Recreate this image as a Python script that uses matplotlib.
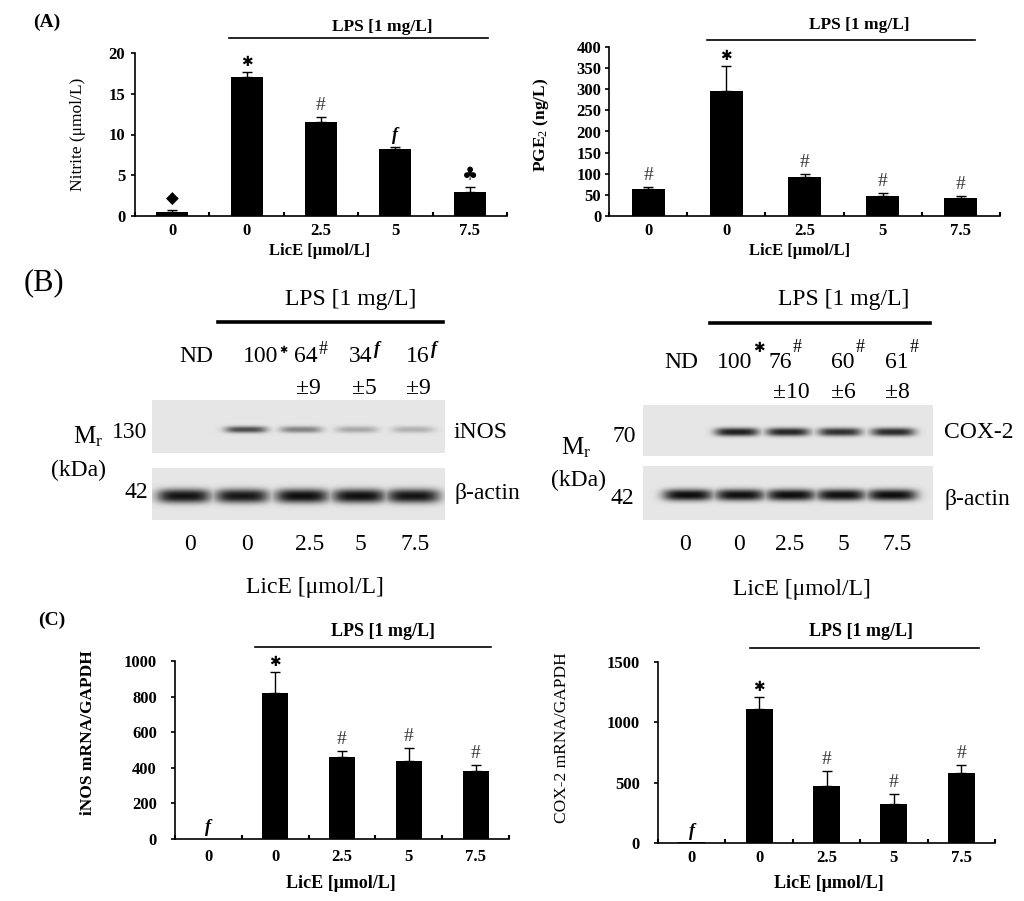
import numpy as np
import matplotlib
matplotlib.use('Agg')
import matplotlib.pyplot as plt
from matplotlib.transforms import Affine2D
from matplotlib.lines import Line2D

plt.rcParams['font.family'] = ['Liberation Serif', 'DejaVu Serif', 'DejaVu Sans']
plt.rcParams['mathtext.fontset'] = 'custom'
plt.rcParams['mathtext.rm'] = 'Liberation Serif'
plt.rcParams['mathtext.it'] = 'Liberation Serif:italic'
plt.rcParams['mathtext.bf'] = 'Liberation Serif:bold'

# ---------------- data ----------------
dose_labels = ['0', '0', '2.5', '5', '7.5']

nitrite = [0.5, 17.0, 11.5, 8.2, 3.0]
nitrite_err = [0.2, 0.7, 0.7, 0.3, 0.6]
nitrite_sig = ['◆', '✱', '#', 'f', '♣']

pge2 = [65, 295, 92, 48, 43]
pge2_err = [3, 60, 8, 6, 5]
pge2_sig = ['#', '✱', '#', '#', '#']

inos_mrna = [0, 820, 460, 440, 380]
inos_mrna_err = [0, 120, 35, 70, 35]
inos_mrna_sig = ['f', '✱', '#', '#', '#']

cox2_mrna = [5, 1110, 475, 320, 580]
cox2_mrna_err = [0, 100, 120, 85, 70]
cox2_mrna_sig = ['f', '✱', '#', '#', '#']

inos_prot = ['ND', '100', '64', '34', '16']
inos_prot_sig = ['', '✱', '#', 'f', 'f']
inos_prot_sd = ['', '', '±9', '±5', '±9']
cox2_prot = ['ND', '100', '76', '60', '61']
cox2_prot_sig = ['', '✱', '#', '#', '#']
cox2_prot_sd = ['', '', '±10', '±6', '±8']

# visual band densities of the western blots (0 = no band, 1 = black)
inos_band = [0.0, 0.70, 0.45, 0.28, 0.24]
actin_band_l = [0.95, 0.93, 0.97, 0.96, 0.94]
cox2_band = [0.0, 0.90, 0.86, 0.82, 0.84]
actin_band_r = [0.97, 0.96, 0.97, 0.96, 0.97]

# ---------------- figure ----------------
W, H = 1024, 901
fig = plt.figure(figsize=(W / 100, H / 100), dpi=100)
T = Affine2D().scale(1.0 / W, -1.0 / H).translate(0, 1) + fig.transFigure


def pax(x0, y0, x1, y1):
    return fig.add_axes([x0 / W, 1 - y1 / H, (x1 - x0) / W, (y1 - y0) / H])


def ptext(x, y, s, **kw):
    kw.setdefault('ha', 'center')
    kw.setdefault('va', 'center')
    fig.text(x, y, s, transform=T, **kw)


def pline(x0, x1, y, lw=1.2):
    fig.add_artist(Line2D([x0, x1], [y, y], transform=T, color='black', lw=lw))


def sig_kw(s):
    if s == 'f':
        return dict(family=['Liberation Serif'], fontstyle='italic', fontweight='bold')
    if s == '#':
        return dict(family=['Liberation Serif'], fontweight='normal', color='#333333')
    return dict(family=['DejaVu Sans'], fontweight='bold')


def bar_panel(rect, vals, errs, sigs, ylim, yticks, width, ypad, xpad, sig_fs, tfs):
    ax = pax(*rect)
    x = np.arange(len(vals))
    vals = np.asarray(vals, float)
    errs = np.asarray(errs, float)
    ax.bar(x, vals, width=width, color='black', zorder=2)
    m = errs > 0
    ax.errorbar(x[m], vals[m], yerr=[np.zeros(m.sum()), errs[m]], fmt='none',
                ecolor='black', elinewidth=1.0, capsize=3.5, capthick=1.0, zorder=1)
    ax.set_xlim(-0.5, len(vals) - 0.5)
    ax.set_ylim(*ylim)
    ax.set_yticks(yticks)
    ax.set_xticks(x, dose_labels)
    ax.set_xticks(np.arange(len(vals) + 1) - 0.5, minor=True)
    ax.tick_params(axis='x', which='major', length=0, pad=xpad, labelsize=tfs)
    ax.tick_params(axis='x', which='minor', direction='in', length=3, width=1.5)
    ax.tick_params(axis='y', direction='out', length=3, width=1.2, pad=ypad, labelsize=tfs)
    for lbl in ax.get_xticklabels() + ax.get_yticklabels():
        lbl.set_fontweight('bold')
    for s in ['top', 'right']:
        ax.spines[s].set_visible(False)
    for s in ['left', 'bottom']:
        ax.spines[s].set_linewidth(1.2)
    for xi, v, e, s in zip(x, vals, errs, sigs):
        fs = sig_fs.get(s, 12)
        ax.annotate(s, (xi, v + e), xytext=(0, 2), textcoords='offset points',
                    ha='center', va='bottom', fontsize=fs, **sig_kw(s))
    return ax


sig_fs = {'◆': 12, '♣': 13, '✱': 10, '#': 14, 'f': 13}

# ---------------- panel A ----------------
ptext(47, 22, '(A)', fontsize=14, fontweight='bold')
bar_panel((135, 53, 507, 216), nitrite, nitrite_err, nitrite_sig, (0, 20),
          [0, 5, 10, 15, 20], 0.43, 4, 5, sig_fs, 12)
ptext(78, 134, 'Nitrite (μmol/L)', fontsize=12.5, rotation=90)
ptext(320, 251, 'LicE [μmol/L]', fontsize=12, fontweight='bold')
ptext(382, 27, 'LPS [1 mg/L]', fontsize=12.5, fontweight='bold')
pline(229, 488, 38)

bar_panel((609, 47, 1000, 216), pge2, pge2_err, pge2_sig, (0, 400),
          list(range(0, 401, 50)), 0.42, 2.5, 5, sig_fs, 12)
ptext(541, 125, 'PGE$_2$ (ng/L)', fontsize=12.5, fontweight='bold', rotation=90)
ptext(800, 251, 'LicE [μmol/L]', fontsize=12, fontweight='bold')
ptext(859, 25, 'LPS [1 mg/L]', fontsize=12.5, fontweight='bold')
pline(707, 975, 40)


# ---------------- panel B (western blots) ----------------
def blot(box, lanes, dens, yc, hw, sy, bg=0.90):
    x0, y0, x1, y1 = box
    ax = pax(x0, y0, x1, y1)
    xs = np.arange(x0, x1) + 0.5
    ys = np.arange(y0, y1) + 0.5
    X, Y = np.meshgrid(xs, ys)
    dark = np.zeros_like(X)
    for xc, d in zip(lanes, dens):
        prof_x = np.exp(-np.abs((X - xc) / hw) ** 4)
        prof_y = np.exp(-np.abs((Y - yc) / sy) ** 2.4)
        dark = np.maximum(dark, d * prof_x * prof_y)
    img = bg - dark * (bg - 0.03)
    ax.imshow(img, cmap='gray', vmin=0, vmax=1, extent=(x0, x1, y1, y0),
              aspect='auto', interpolation='bilinear')
    ax.set_xlim(x0, x1)
    ax.set_ylim(y1, y0)
    ax.axis('off')
    return ax


def lane_labels(xs, nums, sigs, sds, sd_xs, y_num, y_sd, sig_dy, star_fs):
    for x, n, s, sd, sx in zip(xs, nums, sigs, sds, sd_xs):
        if s:
            ptext(x, y_num, n, fontsize=17, ha='right')
            kw = sig_kw(s)
            kw['color'] = 'black'
            fs = star_fs if s == '✱' else 13
            ptext(x + 1, y_num - sig_dy, s, fontsize=fs, ha='left', **kw)
        else:
            ptext(x, y_num, n, fontsize=17)
        if sd:
            ptext(sx, y_sd, sd, fontsize=17)


ptext(44, 283, '(B)', fontsize=22)

# left: iNOS
ptext(351, 299, 'LPS [1 mg/L]', fontsize=17)
pline(218, 443, 322, lw=2.6)
lane_labels([196, 278, 318, 373, 430], inos_prot, inos_prot_sig, inos_prot_sd,
            [0, 0, 308, 364, 418], 357, 388, 7, 7)
blot((152, 400, 445, 453), [196, 246, 301, 357, 413], inos_band, 430, 21, 3.2)
blot((152, 468, 445, 520), [184, 242, 302, 359, 413], actin_band_l, 496, 27, 7.0)
ptext(130, 432, '130', fontsize=17)
ptext(136, 492, '42', fontsize=17)
ptext(88, 437, 'M$_\\mathregular{r}$', fontsize=18)
ptext(78, 470, '(kDa)', fontsize=17)
ptext(453, 432, 'iNOS', fontsize=17, ha='left')
ptext(455, 494, 'β-actin', fontsize=17, ha='left')
for x, s in zip([190, 247, 310, 360, 415], dose_labels):
    ptext(x, 545, s, fontsize=17)
ptext(315, 587, 'LicE [μmol/L]', fontsize=17)

# right: COX-2
ptext(844, 299, 'LPS [1 mg/L]', fontsize=17)
pline(710, 930, 323, lw=2.6)
lane_labels([681, 752, 792, 855, 909], cox2_prot, cox2_prot_sig, cox2_prot_sd,
            [0, 0, 791, 843, 897], 362, 392, 14, 10)
blot((643, 405, 933, 456), [684, 737, 788, 840, 893], cox2_band, 432, 22, 4.2)
blot((643, 466, 933, 520), [688, 740, 791, 841, 892], actin_band_r, 495, 25, 5.8)
ptext(624, 437, '70', fontsize=17)
ptext(622, 498, '42', fontsize=17)
ptext(576, 448, 'M$_\\mathregular{r}$', fontsize=18)
ptext(578, 480, '(kDa)', fontsize=17)
ptext(944, 433, 'COX-2', fontsize=17, ha='left')
ptext(944, 499, 'β-actin', fontsize=17, ha='left')
for x, s in zip([685, 739, 790, 843, 897], dose_labels):
    ptext(x, 545, s, fontsize=17)
ptext(802, 590, 'LicE [μmol/L]', fontsize=17)

# ---------------- panel C ----------------
ptext(52, 620, '(C)', fontsize=14, fontweight='bold')
bar_panel((175, 661, 509, 839), inos_mrna, inos_mrna_err, inos_mrna_sig, (0, 1000),
          [0, 200, 400, 600, 800, 1000], 0.39, 10, 7, sig_fs, 12)
ptext(88, 733, 'iNOS mRNA/GAPDH', fontsize=12.5, fontweight='bold', rotation=90)
ptext(341, 883, 'LicE [μmol/L]', fontsize=13, fontweight='bold')
ptext(383, 632, 'LPS [1 mg/L]', fontsize=13, fontweight='bold')
pline(255, 491, 647)

bar_panel((658, 662, 995, 843), cox2_mrna, cox2_mrna_err, cox2_mrna_sig, (0, 1500),
          [0, 500, 1000, 1500], 0.40, 10, 5, sig_fs, 12)
ptext(562, 738, 'COX-2 mRNA/GAPDH', fontsize=12.5, rotation=90)
ptext(829, 883, 'LicE [μmol/L]', fontsize=13, fontweight='bold')
ptext(861, 632, 'LPS [1 mg/L]', fontsize=13, fontweight='bold')
pline(750, 979, 648)

fig.savefig('out.png', dpi=100)
